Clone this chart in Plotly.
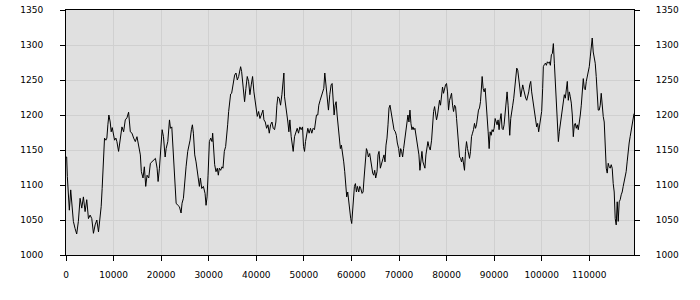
import plotly.graph_objects as go

x_vals = [
    0, 140, 280, 490, 700, 990, 1270, 1550, 1900, 2250, 2600, 2960, 3310, 3660, 4010, 4360, 4720, 5070, 5420, 5770,
    6120, 6480, 6830, 7180, 7390, 7600, 7740, 7880, 8100, 8380, 8590, 8800, 9010, 9290, 9500, 9720, 10000, 10210,
    10490, 10700, 11050, 11260, 11550, 11760, 12110, 12460, 12810, 13160, 13520, 13870, 14220, 14570, 14920, 15280,
    15630, 15840, 16190, 16470, 16760, 17040, 17390, 17740, 18090, 18440, 18800, 19150, 19360, 19640, 19850,
    20210, 20490, 20840, 21050, 21400, 21750, 21960, 22240, 22450, 22660, 22940, 23150, 23500, 23840, 24190, 24400,
    24680, 24890, 25240, 25590, 25800, 26080, 26360, 26570, 26780, 27060, 27340, 27690, 28040, 28250, 28530, 28880,
    29230, 29440, 29650, 29860, 30140, 30420, 30690, 30830, 31040, 31250, 31530, 31810, 32020, 32230, 32510, 32790,
    33000, 33280, 33560, 33770, 33980, 34190, 34400, 34610, 34820, 35030, 35240, 35450, 35730, 36010, 36290, 36500,
    36710, 36920, 37130, 37340, 37540, 37820, 38100, 38380, 38660, 38940, 39220, 39500,
    40000, 40210, 40490, 40770, 41050, 41400, 41610, 41890, 42170, 42450, 42730, 43010, 43290, 43560, 43840, 44120,
    44330, 44540, 44820, 45100, 45380, 45660, 45800, 45940, 46220, 46430, 46640, 46850, 47060, 47340, 47550, 47760,
    48040, 48320, 48600, 48880, 49160, 49440, 49720, 49930, 50140, 50350, 50550, 50830, 51110, 51390, 51670, 51950,
    52230, 52440, 52650, 52930, 53140, 53420, 53630, 53910, 54190, 54400, 54610, 54890, 55170, 55450, 55730, 55940,
    56150, 56360, 56570, 56780, 56990, 57270, 57480, 57680, 57890, 58100, 58380, 58590, 58800, 59010, 59220, 59430,
    59640, 59850, 60060,
    60210, 60420, 60630, 60840, 61050, 61260, 61540, 61750, 61960, 62240, 62450, 62660, 62870, 63010, 63150, 63360,
    63560, 63840, 64050, 64260, 64470, 64680, 64890, 65100, 65380, 65590, 65800, 66080, 66360, 66640, 66850, 67060,
    67270, 67480, 67690, 67900, 68110, 68320, 68530, 68740, 68950, 69230, 69440, 69650, 69930, 70140, 70350, 70550,
    70760, 70970, 71250, 71460, 71670, 71880, 72090, 72300, 72510, 72720, 72930, 73140, 73350, 73560, 73770, 73980,
    74190, 74400, 74610, 74820, 75030, 75240, 75450, 75660, 75870, 76080, 76290, 76570, 76850, 77060, 77270, 77480,
    77690, 77890, 78100, 78310, 78520, 78730, 78940, 79150, 79360, 79570, 79780, 79990, 80200, 80410, 80550,
    80630, 80840, 81050, 81260, 81470, 81680, 81890, 82100, 82310, 82520, 82730, 82940, 83150, 83360, 83560, 83770,
    83980, 84190, 84400, 84610, 84820, 85030, 85240, 85450, 85660, 85870, 86080, 86290, 86500, 86710, 86920, 87130,
    87340, 87480, 87690, 87900, 88110, 88320, 88530, 88740, 88950, 89160, 89370, 89580, 89790, 90000, 90210, 90420,
    90620, 90830, 91040, 91250, 91460, 91670, 91880, 92090, 92300, 92510, 92720, 92930, 93140, 93280, 93490, 93700,
    93910, 94120, 94330, 94540, 94750, 94960, 95170, 95380, 95590, 95800, 96010, 96220, 96430, 96640, 96850, 97060,
    97270, 97480, 97690, 97890, 98100, 98310, 98520, 98730, 98940, 99150, 99360, 99570, 99780, 99990, 100200, 100340,
    100550,
    100770, 100980, 101190, 101400, 101610, 101820, 102030, 102240, 102450, 102660, 102870, 103080, 103290, 103500,
    103700, 103910, 104120, 104330, 104540, 104750, 104960, 105170, 105380, 105590, 105800, 106010, 106220, 106430,
    106640, 106850, 107060, 107270, 107480, 107690, 107900, 108110, 108320, 108530, 108740, 108950, 109160, 109370,
    109580, 109790, 110000, 110210, 110420, 110620, 110830, 111040, 111250, 111460, 111670, 111880, 112090, 112300,
    112510, 112720, 112930, 113140, 113350, 113560, 113770, 113980, 114190, 114400, 114610, 114820, 115030, 115240,
    115450, 115660, 115870, 116080, 116290, 116500, 116710, 116920, 117130, 117330, 117540, 117750, 117960, 118170,
    118380, 118590, 118800, 119010, 119220, 119400,
]

y_vals = [
    1140, 1140, 1112, 1074, 1064, 1093, 1062, 1048, 1038, 1030, 1048, 1081, 1067, 1083, 1062, 1079, 1052, 1057, 1052, 1031,
    1043, 1050, 1033, 1052, 1069, 1095, 1117, 1138, 1167, 1164, 1167, 1186, 1200, 1190, 1176, 1182, 1174, 1164,
    1167, 1162, 1148, 1157, 1176, 1183, 1176, 1193, 1196, 1204, 1176, 1174, 1167, 1162, 1169, 1155,
    1143, 1119, 1110, 1126, 1098, 1114, 1110, 1131, 1133, 1136, 1138, 1124, 1105, 1124, 1148,
    1179, 1169, 1140, 1152, 1162, 1193, 1181, 1183, 1157, 1124, 1098, 1074, 1071, 1069, 1060, 1074,
    1081, 1100, 1126, 1148, 1155, 1164, 1179, 1186, 1174, 1143, 1133, 1117, 1098, 1110, 1095, 1098,
    1088, 1071, 1083, 1114, 1162, 1167, 1162, 1174, 1152, 1129, 1119, 1124, 1114, 1124, 1121, 1126,
    1124, 1148, 1155, 1167, 1186, 1205, 1224, 1230, 1231, 1238, 1248, 1257, 1260, 1250, 1255, 1264,
    1269, 1262, 1243, 1226, 1219, 1238, 1255, 1248, 1229, 1243, 1255, 1233,
    1210, 1198, 1205, 1195, 1200, 1207, 1193, 1190, 1181, 1186, 1174, 1186, 1190, 1181, 1179, 1190,
    1214, 1226, 1224, 1214, 1229, 1250, 1260, 1226, 1214, 1200, 1190, 1176, 1193, 1169, 1157, 1148,
    1169, 1176, 1181, 1174, 1183, 1179, 1183, 1155, 1148, 1162, 1171, 1181, 1174, 1181, 1174, 1181,
    1179, 1193, 1200, 1200, 1214, 1221, 1226, 1229, 1238, 1260, 1243, 1217, 1207, 1229, 1243, 1245,
    1224, 1200, 1214, 1219, 1200, 1183, 1164, 1152, 1157, 1148, 1133, 1119, 1098, 1083, 1090, 1076,
    1057, 1052, 1045,
    1062, 1083, 1098, 1102, 1090, 1098, 1090, 1098, 1095, 1088, 1090, 1110, 1129, 1143, 1152, 1148,
    1140, 1145, 1133, 1129, 1117, 1114, 1121, 1110, 1119, 1143, 1148, 1124, 1133, 1138, 1143, 1133,
    1157, 1167, 1186, 1210, 1214, 1205, 1193, 1190, 1179, 1176, 1171, 1160, 1152, 1140, 1152, 1148,
    1140, 1152, 1167, 1183, 1195, 1200, 1190, 1207, 1188, 1179, 1183, 1179, 1181, 1171, 1162, 1157,
    1143, 1121, 1133, 1148, 1133, 1126, 1124, 1143, 1157, 1162, 1155, 1150, 1164, 1188, 1205, 1212,
    1205, 1193, 1200, 1214, 1221, 1214, 1226, 1240, 1231, 1240, 1243, 1245, 1233, 1207, 1221,
    1221, 1226, 1231, 1214, 1205, 1214, 1212, 1195, 1171, 1157, 1140, 1138, 1133, 1140, 1129, 1121,
    1148, 1162, 1152, 1143, 1138, 1148, 1169, 1174, 1179, 1188, 1181, 1186, 1200, 1207, 1210, 1219,
    1240, 1255, 1238, 1233, 1238, 1221, 1205, 1176, 1152, 1176, 1171, 1179, 1176, 1181, 1195, 1190,
    1186, 1193, 1179, 1193, 1202, 1181, 1179, 1186, 1200, 1219, 1233, 1214, 1195, 1171, 1195, 1210,
    1214, 1224, 1236, 1250, 1267, 1264, 1255, 1240, 1226, 1238, 1243, 1236, 1229, 1224, 1221, 1226,
    1233, 1243, 1248, 1233, 1221, 1210, 1205, 1193, 1183, 1188, 1176, 1186, 1190, 1205, 1238, 1269,
    1272,
    1274, 1271, 1276, 1274, 1276, 1271, 1286, 1288, 1302, 1274, 1250, 1219, 1190, 1162,
    1176, 1186, 1198, 1205, 1221, 1229, 1224, 1233, 1248, 1221, 1233, 1226, 1217, 1200,
    1169, 1186, 1188, 1181, 1186, 1179, 1195, 1200, 1214, 1231, 1252, 1238, 1236, 1248,
    1255, 1264, 1269, 1283, 1295, 1310, 1290, 1283, 1274, 1255, 1224, 1207, 1207, 1214,
    1231, 1210, 1198, 1190, 1152, 1124, 1117, 1131, 1126, 1124, 1129, 1124, 1102, 1090,
    1052, 1043, 1076, 1048, 1076, 1079, 1086, 1090, 1098, 1105, 1112, 1119, 1133, 1152,
    1160, 1169, 1179, 1190, 1200, 1202,
]

x_ticks = [0, 10000, 20000, 30000, 40000, 50000, 60000, 70000, 80000, 90000, 100000, 110000]
y_ticks = [1000, 1050, 1100, 1150, 1200, 1250, 1300, 1350]

font = dict(family="DejaVu Sans", size=9, color="#000000")

fig = go.Figure()
fig.add_trace(go.Scatter(x=x_vals, y=y_vals, mode="lines",
                         line=dict(color="#000000", width=1), showlegend=False,
                         hoverinfo="skip"))
# same series drawn against the right-hand axis (transparent) so that axis renders
fig.add_trace(go.Scatter(x=x_vals, y=y_vals, mode="lines", yaxis="y2",
                         line=dict(color="rgba(0,0,0,0)", width=1), showlegend=False))

fig.update_layout(
    width=700, height=300,
    margin=dict(l=66, r=66, t=10, b=45, pad=0),
    paper_bgcolor="#ffffff", plot_bgcolor="#e0e0e0",
    font=font,
    xaxis=dict(range=[0, 119400], tickvals=x_ticks, ticktext=[str(v) for v in x_ticks],
               showgrid=True, gridcolor="#d0d0d0", gridwidth=1,
               showline=True, linecolor="#000000", linewidth=1, mirror=True,
               ticks="outside", ticklen=5, tickcolor="#000000", zeroline=False,
               ticklabelstandoff=6, tickfont=font, automargin=False),
    yaxis=dict(range=[1000, 1350], tickvals=y_ticks, ticktext=[str(v) for v in y_ticks],
               showgrid=True, gridcolor="#d0d0d0", gridwidth=1,
               showline=True, linecolor="#000000", linewidth=1, mirror=True,
               ticks="outside", ticklen=5, tickcolor="#000000", zeroline=False,
               ticklabelstandoff=15, tickfont=font, automargin=False),
    yaxis2=dict(range=[1000, 1350], tickvals=y_ticks, ticktext=[str(v) for v in y_ticks],
                overlaying="y", side="right", showgrid=False,
                showline=True, linecolor="#000000", linewidth=1,
                ticks="outside", ticklen=5, tickcolor="#000000", zeroline=False,
                ticklabelstandoff=14, tickfont=font, automargin=False),
)

fig.write_html("out.html")
